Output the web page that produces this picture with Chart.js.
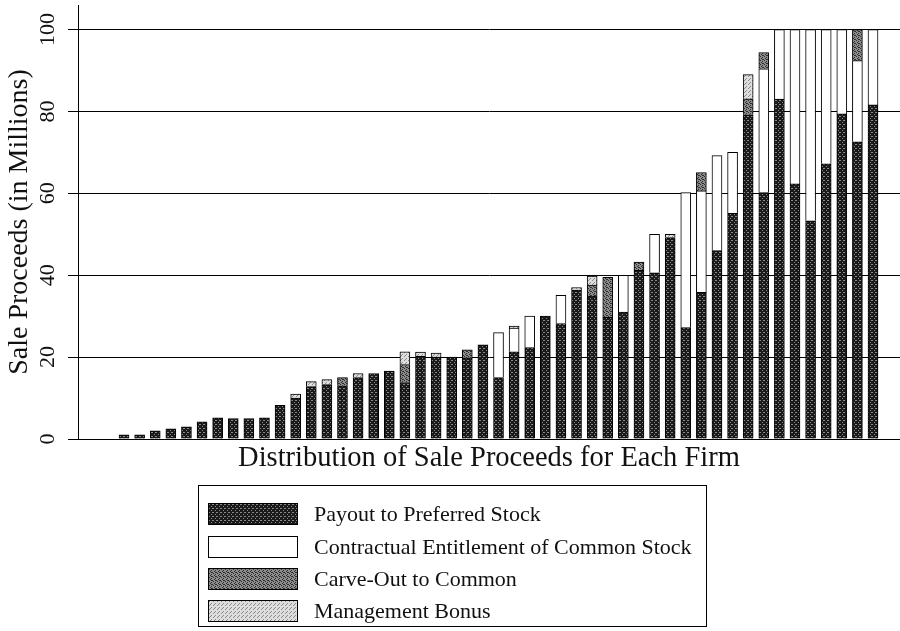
<!DOCTYPE html>
<html>
<head>
<meta charset="utf-8">
<script src="https://cdn.jsdelivr.net/npm/chart.js@4.4.1/dist/chart.umd.min.js"></script>
<style>
  html, body { margin: 0; padding: 0; background: #fff; }
  #wrap { position: relative; width: 900px; height: 631px; }
  #chart { position: absolute; left: 0; top: 0; }
  #legend {
    position: absolute; left: 198px; top: 485px; width: 509px; height: 142px;
    box-sizing: border-box; border: 1px solid #000;
    font-family: "Liberation Serif", serif; font-size: 22px; color: #111;
  }
  .row { position: absolute; left: 9px; height: 22px; display: flex; align-items: center; white-space: nowrap; }
  .swatch { width: 90px; height: 22px; box-sizing: border-box; border: 1px solid #000; margin-right: 16px; image-rendering: pixelated; }
</style>
</head>
<body>
<div id="wrap">
  <canvas id="chart" width="900" height="631"></canvas>
  <div id="legend"></div>
</div>
<script>
const firms = [
  1, 2, 3, 4, 5, 6, 7, 8, 9, 10,
  11, 12, 13, 14, 15, 16, 17, 18, 19, 20,
  21, 22, 23, 24, 25, 26, 27, 28, 29, 30,
  31, 32, 33, 34, 35, 36, 37, 38, 39, 40,
  41, 42, 43, 44, 45, 46, 47, 48, 49
];
const preferred = [
  1, 1, 2, 2.5, 3, 4.2, 5.2, 5, 5, 5.2,
  8.2, 10, 12.8, 13.3, 13, 15, 16, 16.6, 13.8, 20.2,
  20, 20, 19.8, 23, 15, 21.3, 22.3, 30, 28.2, 36.4,
  34.9, 29.7, 31, 41.2, 40.6, 49.2, 27.2, 35.8, 46, 55.1,
  79.2, 60.2, 83, 62.3, 53.3, 67.2, 79.4, 72.6, 81.6
];
const common = [
  0, 0, 0, 0, 0, 0, 0, 0, 0, 0,
  0, 0, 0, 0, 0, 0, 0, 0, 0, 0,
  0, 0, 0, 0, 11, 5.8, 7.7, 0, 6.9, 0,
  0, 0, 9, 0, 9.4, 0, 33, 24.8, 23.2, 14.9,
  0, 30.2, 17, 37.7, 46.7, 32.8, 20.6, 19.8, 18.4
];
const carveOut = [
  0, 0, 0, 0, 0, 0, 0, 0, 0, 0,
  0, 0, 0, 0, 2, 0, 0, 0, 4.4, 0,
  0, 0, 2, 0, 0, 0, 0, 0, 0, 0,
  2.7, 9.8, 0, 2, 0, 0, 0, 4.5, 0, 0,
  3.9, 4, 0, 0, 0, 0, 0, 7.6, 0
];
const bonus = [
  0, 0, 0, 0, 0, 0, 0, 0, 0, 0,
  0, 1, 1.2, 1.2, 0, 1, 0, 0, 3.1, 1,
  1, 0, 0, 0, 0, 0.5, 0, 0, 0, 0.6,
  2.2, 0, 0, 0, 0, 0.8, 0, 0, 0, 0,
  5.9, 0, 0, 0, 0, 0, 0, 0, 0
];
const seriesNames = [
  "Payout to Preferred Stock",
  "Contractual Entitlement of Common Stock",
  "Carve-Out to Common",
  "Management Bonus"
];
const yTicks = [0, 20, 40, 60, 80, 100];

const serif = "'Liberation Serif', 'Times New Roman', serif";

// small stipple tiles, like the print screens in the original
function makeTile(base, dot, cells) {
  const c = document.createElement("canvas");
  c.width = 4;
  c.height = 4;
  const g = c.getContext("2d");
  g.fillStyle = base;
  g.fillRect(0, 0, 4, 4);
  g.fillStyle = dot;
  cells.forEach(([x, y]) => g.fillRect(x, y, 1, 1));
  return c;
}

const tiles = [
  makeTile("#1a1a1a", "#8a8a8a", [[0, 0], [2, 2], [3, 0]]),
  makeTile("#ffffff", "#ffffff", []),
  makeTile("#8c8c8c", "#2e2e2e", [[0, 0], [2, 1], [1, 2], [3, 3], [2, 3]]),
  makeTile("#dedede", "#8a8a8a", [[0, 0], [2, 2], [1, 3]])
];

const ctx = document.getElementById("chart").getContext("2d");
const fills = tiles.map((t) => ctx.createPattern(t, "repeat"));
const seriesValues = [preferred, common, carveOut, bonus];

const datasets = seriesValues.map((values, k) => ({
  label: seriesNames[k],
  data: firms.map((f, i) => ({ x: f, y: values[i] > 0 ? values[i] : null })),
  backgroundColor: fills[k],
  borderColor: "#000",
  borderWidth: 1,
  barThickness: 10,
}));

new Chart(ctx, {
  type: "bar",
  data: { datasets },
  options: {
    responsive: false,
    animation: false,
    layout: { padding: { top: 5, right: 0, bottom: 155, left: 0 } },
    plugins: {
      legend: { display: false },
      tooltip: { enabled: false },
    },
    scales: {
      x: {
        type: "linear",
        stacked: true,
        offset: false,
        min: -1.95,
        max: 50.73,
        grid: { display: false, offset: false },
        border: { display: false },
        ticks: { display: false },
        title: {
          display: true,
          text: "Distribution of Sale Proceeds for Each Firm",
          color: "#111",
          font: { family: serif, size: 28.5 },
          padding: { top: 0, bottom: 0 },
        },
        afterFit: (s) => {
          s.height = 37;
          s.paddingLeft = 0;
          s.paddingRight = 0;
        },
      },
      y: {
        stacked: true,
        min: 0,
        max: 106,
        afterBuildTicks: (s) => {
          s.ticks = yTicks.map((v) => ({ value: v }));
        },
        ticks: {
          minRotation: 90,
          maxRotation: 90,
          crossAlign: "center",
          padding: 3,
          color: "#111",
          font: { family: serif, size: 22 },
        },
        grid: { color: "#000", lineWidth: 1, tickLength: 10 },
        border: { color: "#000", width: 1 },
        title: {
          display: true,
          text: "Sale Proceeds (in Millions)",
          color: "#111",
          font: { family: serif, size: 28 },
          padding: { top: 3, bottom: 0 },
        },
        afterFit: (s) => {
          s.width = 78;
          s.paddingTop = 0;
          s.paddingBottom = 0;
        },
      },
    },
  },
});

const legendEl = document.getElementById("legend");
const rowTops = [17, 50, 82, 114];
seriesNames.forEach((name, k) => {
  const row = document.createElement("div");
  row.className = "row";
  row.style.top = rowTops[k] + "px";
  const sw = document.createElement("div");
  sw.className = "swatch";
  sw.style.backgroundImage = `url(${tiles[k].toDataURL()})`;
  const label = document.createElement("span");
  label.textContent = name;
  row.appendChild(sw);
  row.appendChild(label);
  legendEl.appendChild(row);
});
</script>
</body>
</html>
